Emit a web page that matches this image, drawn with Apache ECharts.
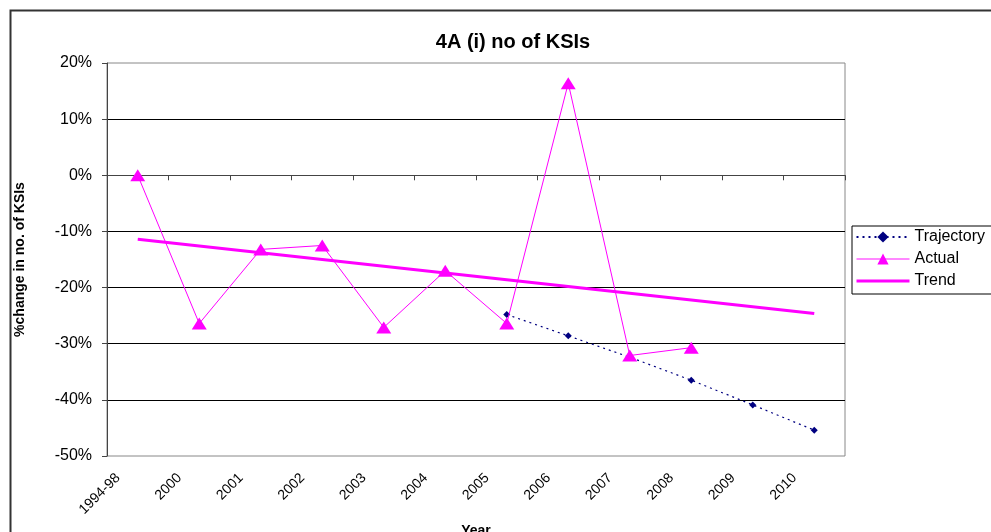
<!DOCTYPE html>
<html>
<head>
<meta charset="utf-8">
<script src="https://cdn.jsdelivr.net/npm/echarts@6/dist/echarts.min.js"></script>
<style>html,body{margin:0;padding:0;background:#fff;}#c{width:991px;height:532px;}</style>
</head>
<body>
<div id="c"></div>
<script>
const categories = ['1994-98','2000','2001','2002','2003','2004','2005','2006','2007','2008','2009','2010'];
const trajectory = [null,null,null,null,null,null,-24.8,-28.6,-32.4,-36.5,-40.9,-45.4];
const actual = [0,-26.4,-13.2,-12.5,-27.1,-17.0,-26.4,16.4,-32.1,-30.7,null,null];
const trend = [-11.4,null,null,null,null,null,null,null,null,null,null,-24.6];
const yTicks = {min:-50, max:20, interval:10};

const chart = echarts.init(document.getElementById('c'), null, {renderer:'canvas'});
const font = 'Arial, "Liberation Sans", sans-serif';
chart.setOption({
  animation:false,
  backgroundColor:'#fff',
  title:{text:'4A (i) no of KSIs', left:508, top:27, textAlign:'center',
    textStyle:{fontFamily:font, fontSize:20, fontWeight:'bold', color:'#000'}},
  graphic:[{type:'rect', left:8, top:8, shape:{width:1000, height:600},
    style:{fill:'none', stroke:'#333', lineWidth:2}, silent:true}],
  grid:{left:107, right:146, top:63, bottom:76, show:true, borderColor:'#888', borderWidth:1,
    containLabel:false, outerBoundsMode:'none'},
  legend:{orient:'vertical', left:852, top:226, itemGap:6, padding:[3,30,5,3],
    borderColor:'#000', borderWidth:1, itemWidth:53, itemHeight:14,
    textStyle:{fontFamily:font, fontSize:16, color:'#000'},
    data:[{name:'Trajectory', itemStyle:{borderWidth:0}},
          {name:'Actual', lineStyle:{color:'#ff88ff', width:2}},
          {name:'Trend', itemStyle:{opacity:0}, lineStyle:{width:3}}]},
  xAxis:[{type:'category', data:categories, boundaryGap:true,
      axisLine:{onZero:true, lineStyle:{color:'#444', width:1}},
      axisTick:{show:true, length:5, lineStyle:{color:'#444'}},
      axisLabel:{show:false}, splitLine:{show:false}},
    {type:'category', data:categories, boundaryGap:true, position:'bottom',
      axisLine:{show:false, onZero:false}, axisTick:{show:false},
      axisLabel:{rotate:45, margin:0, padding:[0,28,0,0], fontFamily:font, fontSize:14, color:'#000', interval:0},
      name:'Year', nameLocation:'middle', nameGap:64,
      nameTextStyle:{fontFamily:font, fontSize:14, fontWeight:'bold', color:'#000'}}],
  yAxis:{type:'value', min:yTicks.min, max:yTicks.max, interval:yTicks.interval,
    axisLine:{show:true, lineStyle:{color:'#444'}},
    axisTick:{show:true, length:5, inside:false, lineStyle:{color:'#444'}},
    axisLabel:{formatter:'{value}%', fontFamily:font, fontSize:16, color:'#000', margin:15},
    splitLine:{show:true, showMinLine:false, showMaxLine:false, lineStyle:{color:'#000', width:1}},
    name:'%change in no. of KSIs', nameLocation:'middle', nameGap:80, nameRotate:90,
    nameTextStyle:{fontFamily:font, fontSize:14, fontWeight:'bold', color:'#000'}},
  series:[
    {name:'Trajectory', type:'line', data:trajectory, xAxisIndex:0,
      symbol:'diamond', symbolSize:7, showSymbol:true,
      lineStyle:{color:'#000080', width:1.2, type:[2,4]}, itemStyle:{color:'#000080'}, z:3},
    {name:'Actual', type:'line', data:actual, xAxisIndex:0,
      symbol:'triangle', symbolSize:[15,12], showSymbol:true,
      lineStyle:{color:'#ff00ff', width:1}, itemStyle:{color:'#ff00ff'}, z:4},
    {name:'Trend', type:'line', data:trend, xAxisIndex:0, connectNulls:true,
      symbol:'none', lineStyle:{color:'#ff00ff', width:3}, itemStyle:{color:'#ff00ff'}, z:2}
  ]
});
</script>
</body>
</html>
